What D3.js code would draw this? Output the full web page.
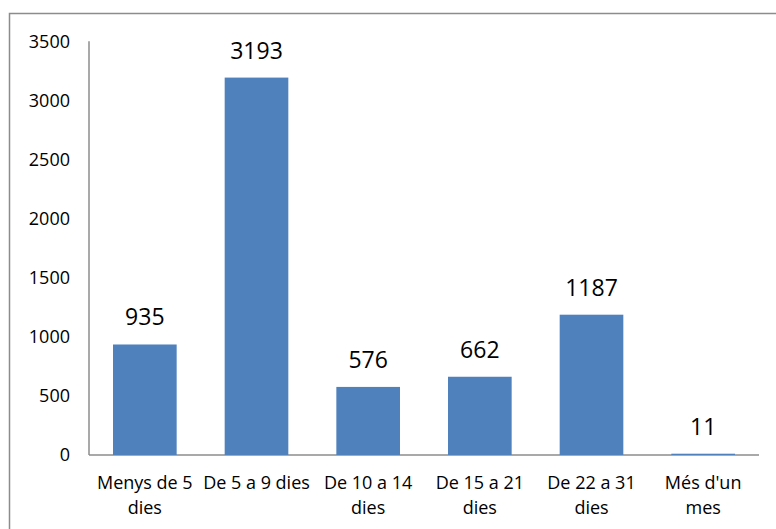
<!DOCTYPE html>
<html><head><meta charset="utf-8">
<script src="https://cdn.jsdelivr.net/npm/d3@7"></script>
<style>body{margin:0;background:#fff}svg{display:block}</style>
</head><body>
<script>
const categories = [["Menys de 5","dies"],["De 5 a 9 dies"],["De 10 a 14","dies"],["De 15 a 21","dies"],["De 22 a 31","dies"],["Més d'un","mes"]];
const values = [935, 3193, 576, 662, 1187, 11];
const yTicks = [0, 500, 1000, 1500, 2000, 2500, 3000, 3500];

(function () {
const W = 776, H = 529;
const svg = d3.select("body").append("svg").attr("width", W).attr("height", H);
const font = "'Open Sans', 'Noto Sans', sans-serif";

svg.append("rect").attr("x", 9.5).attr("y", 13.5).attr("width", 800).attr("height", 600)
  .attr("fill", "none").attr("stroke", "#8c8c8c").attr("stroke-width", 1.5);

const mL = 89, mR = 759, mT = 41.3, mB = 455;
const x = d3.scaleBand().domain(d3.range(categories.length)).range([mL, mR]).paddingInner(0.43).paddingOuter(0.215);
const y = d3.scaleLinear().domain([0, 3500]).range([mB, mT]);

svg.append("line").attr("x1", mL).attr("x2", mL).attr("y1", mT).attr("y2", mB).attr("stroke", "#8c8c8c").attr("stroke-width", 1.5);
svg.append("line").attr("x1", mL).attr("x2", mR).attr("y1", mB).attr("y2", mB).attr("stroke", "#8c8c8c").attr("stroke-width", 1.5);

svg.append("g").selectAll("text").data(yTicks).join("text")
  .attr("x", 70).attr("y", d => y(d)).attr("dy", "0.35em").attr("text-anchor", "end")
  .attr("font-family", font).attr("font-size", 18).attr("fill", "#000").text(d => d);

svg.append("g").selectAll("rect").data(values).join("rect")
  .attr("x", (d, i) => x(i)).attr("width", x.bandwidth())
  .attr("y", d => y(d)).attr("height", d => mB - y(d)).attr("fill", "#4f81bd");

svg.append("g").selectAll("text").data(values).join("text")
  .attr("x", (d, i) => x(i) + x.bandwidth() / 2).attr("y", d => y(d) - 19)
  .attr("text-anchor", "middle").attr("font-family", font).attr("font-size", 23).attr("fill", "#000").text(d => d);

const cg = svg.append("g");
categories.forEach((lines, i) => {
  const t = cg.append("text").attr("text-anchor", "middle").attr("font-family", font).attr("font-size", 18).attr("fill", "#000");
  lines.forEach((l, j) => {
    t.append("tspan").attr("x", x(i) + x.bandwidth() / 2).attr("y", 489 + j * 25).text(l);
  });
});
})();
</script>
</body></html>
